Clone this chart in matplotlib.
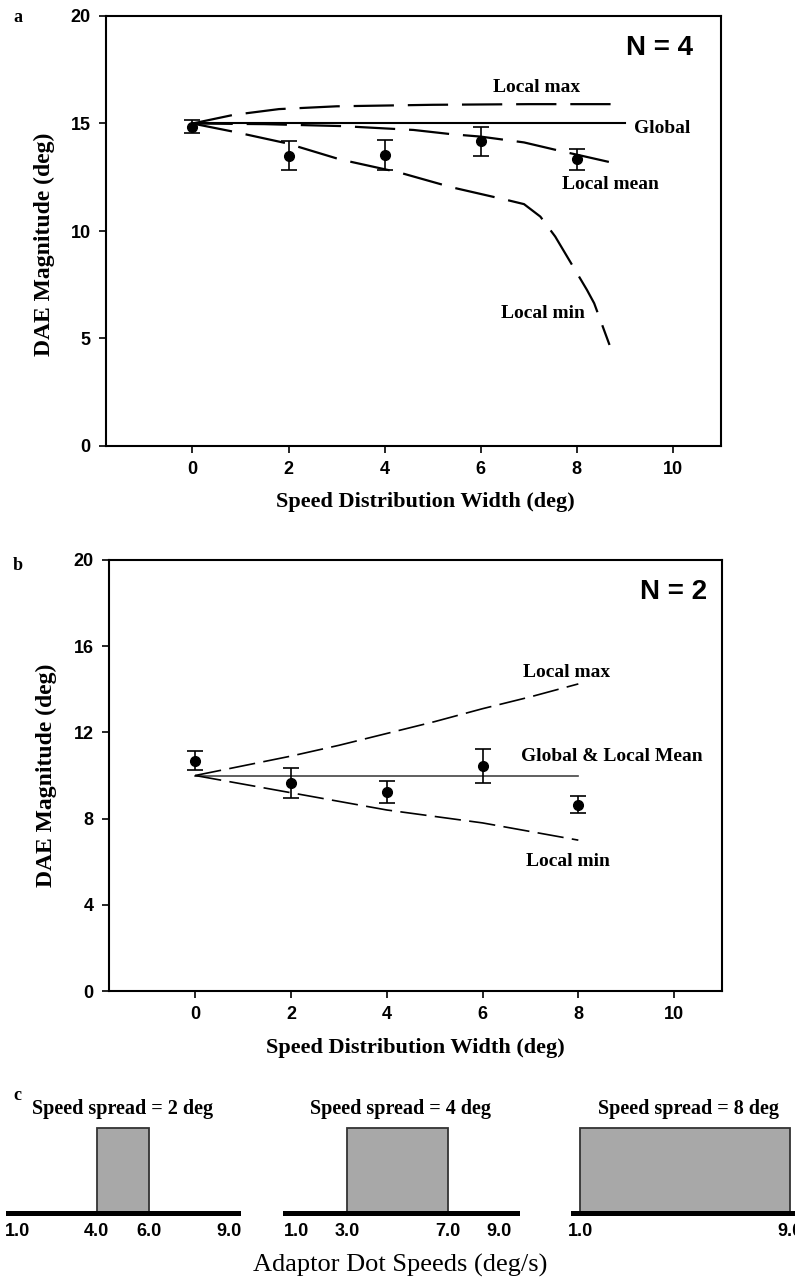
import numpy as np
import matplotlib.pyplot as plt

plt.rcParams['font.family'] = ['Liberation Sans', 'DejaVu Sans']
plt.rcParams['lines.scale_dashes'] = False

SERIF = 'Liberation Serif'
W, H = 795, 1281

# ---- panel a : N = 4 ----
widths = [0, 2, 4, 6, 8]
a_mean = [14.85, 13.5, 13.55, 14.17, 13.33]
a_err = [0.3, 0.67, 0.7, 0.69, 0.5]
a_global_x = [0, 9]
a_global_y = [15, 15]
a_max_x = [0, 0.85, 1.8, 3.0, 5.0, 7.0, 8.85]
a_max_y = [15.0, 15.4, 15.67, 15.8, 15.87, 15.9, 15.9]
a_mean_x = [0, 1.5, 3.1, 4.6, 5.4, 6.0, 6.9, 7.7, 8.1, 8.85]
a_mean_y = [15.0, 14.97, 14.88, 14.7, 14.5, 14.39, 14.12, 13.7, 13.5, 13.12]
a_min_x = [0, 0.85, 1.96, 3.07, 4.29, 5.4, 6.55, 6.9, 7.24, 7.55, 8.21, 8.36, 8.68]
a_min_y = [15.0, 14.62, 14.08, 13.33, 12.73, 12.03, 11.44, 11.25, 10.67, 9.74, 7.26, 6.64, 4.7]

# ---- panel b : N = 2 ----
b_mean = [10.69, 9.65, 9.24, 10.42, 8.64]
b_err = [0.44, 0.68, 0.5, 0.79, 0.4]
b_global_x = [0, 8]
b_global_y = [10, 10]
b_max_x = [0, 1, 2, 3, 4, 5, 6, 7, 8]
b_max_y = [10.0, 10.45, 10.9, 11.4, 11.95, 12.5, 13.1, 13.65, 14.25]
b_min_x = [0, 1, 2, 3, 4, 5, 6, 7, 8]
b_min_y = [10.0, 9.6, 9.2, 8.8, 8.4, 8.1, 7.8, 7.4, 7.0]

# ---- panel c : speed spreads ----
spreads = [2, 4, 8]
spread_lo = [4, 3, 1]
spread_hi = [6, 7, 9]
c_ticks = [[1, 4, 6, 9], [1, 3, 7, 9], [1, 9]]
c_xlims = [(0.66, 9.34), (0.55, 9.72), (0.72, 9.49)]


def box(l, t, r, b):
    # pixel box -> figure fraction
    return [l / W, 1 - b / H, (r - l) / W, (b - t) / H]


fig = plt.figure(figsize=(W / 100, H / 100), dpi=100)


def style_main(ax, yticks):
    for s in ax.spines.values():
        s.set_linewidth(1.5)
    ax.set_xlim(-1.8, 11)
    ax.set_ylim(0, 20)
    ax.set_xticks([0, 2, 4, 6, 8, 10])
    ax.set_yticks(yticks)
    ax.tick_params(direction='out', length=5, width=1.2, pad=6, labelsize=13)
    for lab in ax.get_xticklabels() + ax.get_yticklabels():
        lab.set_fontweight('bold')


# panel a
ax = fig.add_axes(box(106, 16, 721, 446))
style_main(ax, [0, 5, 10, 15, 20])
ax.plot(a_global_x, a_global_y, color='black', lw=1.5)
ax.plot(a_max_x, a_max_y, color='black', lw=1.6, dashes=(29, 10))
ax.plot(a_mean_x, a_mean_y, color='black', lw=1.6, dashes=(29, 10))
ax.plot(a_min_x, a_min_y, color='black', lw=1.6, dashes=(29, 10))
ax.errorbar(widths, a_mean, yerr=a_err, fmt='o', color='black', ms=7,
            capsize=5.5, elinewidth=1.2, capthick=1.2)
tf = dict(family=SERIF, fontweight='bold', fontsize=14)
ax.text(7.17, 16.68, 'Local max', ha='center', va='center', **tf)
ax.text(9.18, 14.78, 'Global', ha='left', va='center', **tf)
ax.text(7.69, 12.17, 'Local mean', ha='left', va='center', **tf)
ax.text(7.29, 6.17, 'Local min', ha='center', va='center', **tf)
ax.text(0.955, 0.925, 'N = 4', transform=ax.transAxes, ha='right', va='center',
        fontsize=20, fontweight='bold')
ax.set_xlabel('Speed Distribution Width (deg)', family=SERIF, fontweight='bold', fontsize=16)
ax.set_ylabel('DAE Magnitude (deg)', family=SERIF, fontweight='bold', fontsize=17)
ax.xaxis.set_label_coords(0.52, -0.107)
ax.yaxis.set_label_coords(-0.083, 0.47)

# panel b
ax = fig.add_axes(box(109, 560, 722, 991))
style_main(ax, [0, 4, 8, 12, 16, 20])
ax.plot(b_global_x, b_global_y, color='#444444', lw=1.2)
ax.plot(b_max_x, b_max_y, color='black', lw=1.2, dashes=(19, 6))
ax.plot(b_min_x, b_min_y, color='black', lw=1.2, dashes=(19, 6))
ax.errorbar(widths, b_mean, yerr=b_err, fmt='o', color='black', ms=7,
            capsize=5.5, elinewidth=1.2, capthick=1.2)
ax.text(7.76, 14.77, 'Local max', ha='center', va='center', **tf)
ax.text(6.80, 10.9, 'Global & Local Mean', ha='left', va='center', **tf)
ax.text(7.78, 5.99, 'Local min', ha='center', va='center', **tf)
ax.text(0.975, 0.926, 'N = 2', transform=ax.transAxes, ha='right', va='center',
        fontsize=20, fontweight='bold')
ax.set_xlabel('Speed Distribution Width (deg)', family=SERIF, fontweight='bold', fontsize=16)
ax.set_ylabel('DAE Magnitude (deg)', family=SERIF, fontweight='bold', fontsize=17)
ax.xaxis.set_label_coords(0.5, -0.11)
ax.yaxis.set_label_coords(-0.085, 0.5)

# panel c
c_boxes = [(8, 238), (285, 517), (573, 803)]
for (l, r), sp, lo, hi, tk, xl in zip(c_boxes, spreads, spread_lo, spread_hi, c_ticks, c_xlims):
    ax = fig.add_axes(box(l, 1120, r, 1213))
    ax.bar([(lo + hi) / 2], [1], width=hi - lo, color='#a8a8a8',
           edgecolor='#333333', linewidth=1.3)
    ax.set_xlim(*xl)
    ax.set_ylim(0, 1.1)
    for s in ['top', 'right', 'left']:
        ax.spines[s].set_visible(False)
    ax.spines['bottom'].set_linewidth(3.6)
    ax.set_yticks([])
    ax.set_xticks(tk)
    ax.set_xticklabels(['%.1f' % v for v in tk], fontsize=13, fontweight='bold')
    ax.tick_params(axis='x', length=0, pad=7)
    ax.set_title('Speed spread = %d deg' % sp, family=SERIF, fontweight='bold',
                 fontsize=14.5, pad=4)

fig.text(400 / W, 1 - 1265 / H, 'Adaptor Dot Speeds (deg/s)', family=SERIF,
         fontsize=19, ha='center', va='center')

lf = dict(family=SERIF, fontweight='bold', fontsize=13, ha='center', va='center')
fig.text(18 / W, 1 - 18 / H, 'a', **lf)
fig.text(18 / W, 1 - 565 / H, 'b', **lf)
fig.text(17 / W, 1 - 1095 / H, 'c', **lf)

fig.savefig('out.png', dpi=100)
